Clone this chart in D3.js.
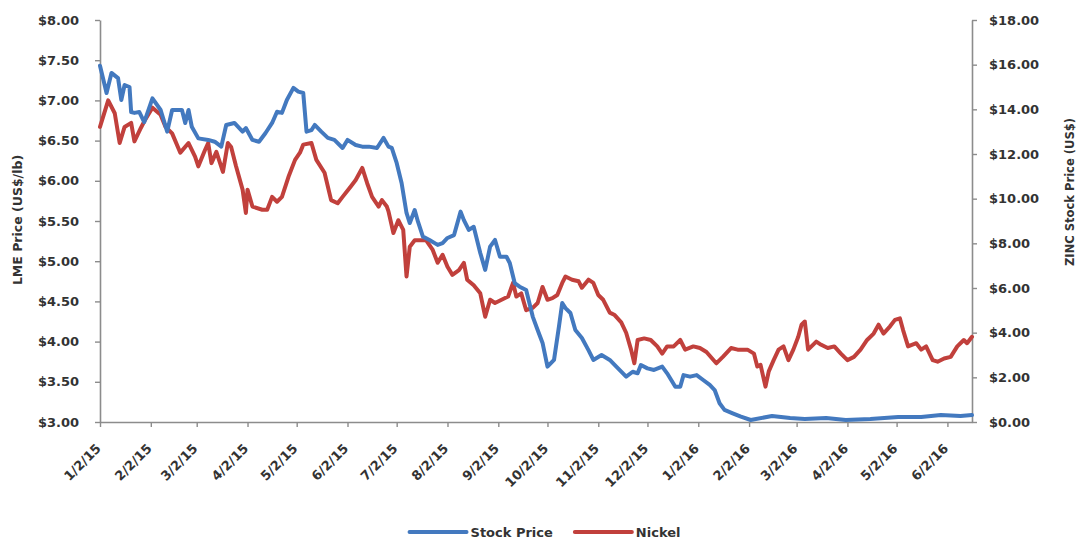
<!DOCTYPE html>
<html>
<head>
<meta charset="utf-8">
<script src="https://cdn.jsdelivr.net/npm/d3@7"></script>
<style>
  html, body { margin: 0; padding: 0; background: #fff; }
  svg { display: block; }
  .lbl { font-family: "DejaVu Sans", sans-serif; font-weight: bold; fill: #333; }
</style>
</head>
<body>
<svg id="chart" width="1077" height="540"></svg>
<script>
// ZINC (Horsehead) share price, US$ — right axis
const stockDates = [
  "2015-01-02","2015-01-06","2015-01-09","2015-01-13","2015-01-15","2015-01-17","2015-01-20","2015-01-21","2015-01-23","2015-01-26",
  "2015-01-29","2015-02-03","2015-02-08","2015-02-12","2015-02-15","2015-02-21","2015-02-23","2015-02-25","2015-02-27","2015-03-03",
  "2015-03-09","2015-03-13","2015-03-17","2015-03-20","2015-03-25","2015-03-30","2015-04-01","2015-04-05","2015-04-09","2015-04-13",
  "2015-04-17","2015-04-20","2015-04-23","2015-04-26","2015-04-30","2015-05-03","2015-05-06","2015-05-08","2015-05-11","2015-05-13",
  "2015-05-17","2015-05-21","2015-05-25","2015-05-30","2015-06-02","2015-06-07","2015-06-11","2015-06-15","2015-06-20","2015-06-24",
  "2015-06-27","2015-06-29","2015-07-02","2015-07-05","2015-07-08","2015-07-10","2015-07-13","2015-07-15","2015-07-18","2015-07-22",
  "2015-07-27","2015-07-30","2015-08-02","2015-08-06","2015-08-10","2015-08-12","2015-08-15","2015-08-18","2015-08-22","2015-08-25",
  "2015-08-28","2015-08-31","2015-09-03","2015-09-07","2015-09-09","2015-09-12","2015-09-15","2015-09-19","2015-09-23","2015-09-26",
  "2015-09-29","2015-10-02","2015-10-06","2015-10-09","2015-10-11","2015-10-13","2015-10-16","2015-10-19","2015-10-23","2015-10-27",
  "2015-10-30","2015-11-04","2015-11-09","2015-11-13","2015-11-19","2015-11-23","2015-11-26","2015-11-28","2015-12-02","2015-12-06",
  "2015-12-11","2015-12-14","2015-12-19","2015-12-22","2015-12-24","2015-12-28","2016-01-01","2016-01-05","2016-01-09","2016-01-12",
  "2016-01-15","2016-01-18","2016-01-23","2016-01-28","2016-02-03","2016-02-16","2016-02-27","2016-03-07","2016-03-20","2016-04-01",
  "2016-04-16","2016-05-03","2016-05-17","2016-05-29","2016-06-10","2016-06-17"
];
const stockPrice = [
  15.95,14.73,15.63,15.40,14.42,15.09,15.00,13.88,13.84,13.88,
  13.43,14.49,13.97,13.00,13.97,13.97,13.39,13.97,13.22,12.70,
  12.63,12.55,12.33,13.30,13.39,13.00,13.16,12.63,12.55,12.94,
  13.39,13.89,13.84,14.42,14.96,14.79,14.73,13.00,13.07,13.30,
  13.00,12.72,12.63,12.27,12.63,12.40,12.33,12.33,12.27,12.72,
  12.33,12.27,11.60,10.70,9.36,8.91,9.49,8.97,8.30,8.15,
  7.93,8.01,8.24,8.37,9.42,9.04,8.60,8.74,7.57,6.81,
  7.85,8.15,7.40,7.40,7.12,6.22,6.06,5.91,4.72,4.12,
  3.54,2.48,2.78,4.27,5.33,5.10,4.88,4.12,3.76,3.22,
  2.78,3.00,2.78,2.48,2.03,2.25,2.18,2.55,2.40,2.33,
  2.48,2.18,1.58,1.58,2.10,2.03,2.10,1.88,1.66,1.43,
  0.84,0.54,0.39,0.24,0.09,0.27,0.18,0.13,0.18,0.09,
  0.13,0.22,0.22,0.31,0.27,0.31
];

// LME nickel price, US$/lb — left axis
const nickelDates = [
  "2015-01-02","2015-01-07","2015-01-11","2015-01-14","2015-01-17","2015-01-21","2015-01-23","2015-01-27","2015-01-29",
  "2015-02-03","2015-02-08","2015-02-11","2015-02-15","2015-02-20","2015-02-25",
  "2015-03-01","2015-03-03","2015-03-07","2015-03-09","2015-03-11","2015-03-14","2015-03-18","2015-03-21","2015-03-23","2015-03-26","2015-03-30",
  "2015-04-01","2015-04-02","2015-04-05","2015-04-11","2015-04-14","2015-04-17","2015-04-20","2015-04-23","2015-04-27",
  "2015-05-01","2015-05-04","2015-05-06","2015-05-11","2015-05-14","2015-05-19","2015-05-23","2015-05-27","2015-05-30",
  "2015-06-04","2015-06-07","2015-06-11","2015-06-14","2015-06-17","2015-06-21","2015-06-23","2015-06-26","2015-06-27","2015-06-30",
  "2015-07-03","2015-07-06","2015-07-08","2015-07-10","2015-07-13","2015-07-16","2015-07-20","2015-07-24","2015-07-27","2015-07-30",
  "2015-08-02","2015-08-05","2015-08-09","2015-08-12","2015-08-14","2015-08-18","2015-08-22","2015-08-25","2015-08-28","2015-08-31",
  "2015-09-04","2015-09-08","2015-09-11","2015-09-13","2015-09-16","2015-09-19","2015-09-23","2015-09-26","2015-09-29",
  "2015-10-02","2015-10-05","2015-10-08","2015-10-11","2015-10-13","2015-10-17","2015-10-21","2015-10-23","2015-10-27","2015-10-30",
  "2015-11-02","2015-11-05","2015-11-09","2015-11-12","2015-11-16","2015-11-19","2015-11-22","2015-11-24","2015-11-26","2015-11-30",
  "2015-12-04","2015-12-08","2015-12-11","2015-12-14","2015-12-18","2015-12-22","2015-12-25","2015-12-30",
  "2016-01-03","2016-01-07","2016-01-13","2016-01-17","2016-01-22","2016-01-26",
  "2016-02-01","2016-02-05","2016-02-07","2016-02-09","2016-02-12","2016-02-14","2016-02-17","2016-02-20","2016-02-23","2016-02-26","2016-02-29",
  "2016-03-03","2016-03-05","2016-03-07","2016-03-09","2016-03-14","2016-03-17","2016-03-21","2016-03-25","2016-03-29",
  "2016-04-02","2016-04-06","2016-04-10","2016-04-14","2016-04-18","2016-04-21","2016-04-24","2016-04-28",
  "2016-05-01","2016-05-04","2016-05-06","2016-05-09","2016-05-14","2016-05-17","2016-05-20","2016-05-24","2016-05-27","2016-05-31",
  "2016-06-04","2016-06-08","2016-06-12","2016-06-14","2016-06-17"
];
const nickelPrice = [
  6.67,7.00,6.84,6.47,6.67,6.72,6.49,6.66,6.74,
  6.91,6.82,6.67,6.59,6.35,6.47,
  6.30,6.18,6.38,6.47,6.22,6.36,6.11,6.47,6.42,6.18,5.89,
  5.60,5.89,5.68,5.64,5.64,5.80,5.74,5.80,6.05,
  6.26,6.35,6.45,6.47,6.26,6.10,5.76,5.72,5.80,
  5.93,6.01,6.16,5.97,5.80,5.68,5.76,5.68,5.62,5.35,
  5.51,5.39,4.81,5.18,5.26,5.26,5.26,5.14,4.98,5.08,
  4.93,4.83,4.89,4.98,4.77,4.70,4.60,4.31,4.52,4.48,
  4.52,4.56,4.73,4.56,4.60,4.39,4.42,4.48,4.68,
  4.52,4.54,4.58,4.73,4.81,4.77,4.75,4.67,4.77,4.73,
  4.58,4.52,4.36,4.33,4.24,4.11,3.90,3.73,4.02,4.04,
  4.02,3.94,3.85,3.94,3.94,4.02,3.90,3.94,
  3.92,3.87,3.73,3.81,3.92,3.90,
  3.90,3.85,3.69,3.71,3.44,3.63,3.77,3.90,3.94,3.77,3.90,
  4.06,4.21,4.25,3.90,4.00,3.96,3.92,3.94,3.85,
  3.77,3.81,3.90,4.02,4.10,4.21,4.10,4.19,
  4.27,4.29,4.14,3.94,3.98,3.90,3.94,3.77,3.75,3.79,
  3.81,3.94,4.02,3.98,4.06
];

const xTickLabels = ["1/2/15","2/2/15","3/2/15","4/2/15","5/2/15","6/2/15","7/2/15","8/2/15","9/2/15",
  "10/2/15","11/2/15","12/2/15","1/2/16","2/2/16","3/2/16","4/2/16","5/2/16","6/2/16"];
const xRange = ["2015-01-02", "2016-06-17"];
const leftTicks = [3, 3.5, 4, 4.5, 5, 5.5, 6, 6.5, 7, 7.5, 8];
const rightTicks = [0, 2, 4, 6, 8, 10, 12, 14, 16, 18];
const seriesNames = ["Stock Price", "Nickel"];
const leftTitle = "LME Price (US$/lb)";
const rightTitle = "ZINC Stock Price (US$)";

const colors = { "Stock Price": "#4379bf", "Nickel": "#c1403c" };
const axisColor = "#8c8c8c";

const plot = { left: 100, right: 972, top: 20, bottom: 422 };
const parseISO = d3.timeParse("%Y-%m-%d");
const parseTick = d3.timeParse("%m/%d/%y");
const fmtTick = d3.timeFormat("%-m/%-d/%y");
const money = d => "$" + d.toFixed(2);

const svg = d3.select("#chart");

const x = d3.scaleTime().domain(xRange.map(parseISO)).range([plot.left, plot.right]);
const yL = d3.scaleLinear().domain([3, 8]).range([plot.bottom, plot.top]);
const yR = d3.scaleLinear().domain([0, 18]).range([plot.bottom, plot.top]);

const stock = stockDates.map((d, i) => ({ date: parseISO(d), value: stockPrice[i] }));
const nickel = nickelDates.map((d, i) => ({ date: parseISO(d), value: nickelPrice[i] }));

function styleAxis(g) {
  g.selectAll("path.domain").attr("stroke", axisColor).attr("stroke-width", 1.6);
  g.selectAll(".tick line").attr("stroke", axisColor).attr("stroke-width", 1.4);
  g.selectAll(".tick text").attr("class", "lbl").attr("font-size", 13).attr("fill", "#333");
}

// left value axis (nickel)
svg.append("g")
  .attr("transform", `translate(${plot.left},0)`)
  .call(d3.axisLeft(yL).tickValues(leftTicks).tickFormat(money).tickSize(5).tickSizeOuter(0).tickPadding(16))
  .call(styleAxis);

// right value axis (stock price)
svg.append("g")
  .attr("transform", `translate(${plot.right},0)`)
  .call(d3.axisRight(yR).tickValues(rightTicks).tickFormat(money).tickSize(5).tickSizeOuter(0).tickPadding(12))
  .call(styleAxis);

// date axis
const gx = svg.append("g")
  .attr("transform", `translate(0,${plot.bottom})`)
  .call(d3.axisBottom(x).tickValues(xTickLabels.map(parseTick)).tickFormat(fmtTick).tickSize(5).tickSizeOuter(0))
  .call(styleAxis);
gx.selectAll(".tick text")
  .attr("x", 0).attr("y", 0).attr("dy", "0.35em")
  .attr("text-anchor", "end")
  .attr("transform", "translate(-2,24) rotate(-45)");

// axis titles
svg.append("text").attr("class", "lbl").attr("font-size", 12.5)
  .attr("text-anchor", "middle").attr("dominant-baseline", "central")
  .attr("transform", "translate(17,220) rotate(-90)")
  .text(leftTitle);
svg.append("text").attr("class", "lbl").attr("font-size", 12.5)
  .attr("text-anchor", "middle").attr("dominant-baseline", "central")
  .attr("textLength", 148).attr("lengthAdjust", "spacingAndGlyphs")
  .attr("transform", "translate(1069,192) rotate(-90)")
  .text(rightTitle);

// series
const lineL = d3.line().x(d => x(d.date)).y(d => yL(d.value));
const lineR = d3.line().x(d => x(d.date)).y(d => yR(d.value));

svg.append("path").datum(nickel)
  .attr("fill", "none").attr("stroke", colors["Nickel"]).attr("stroke-width", 4)
  .attr("stroke-linejoin", "round").attr("stroke-linecap", "round")
  .attr("d", lineL);
svg.append("path").datum(stock)
  .attr("fill", "none").attr("stroke", colors["Stock Price"]).attr("stroke-width", 4)
  .attr("stroke-linejoin", "round").attr("stroke-linecap", "round")
  .attr("d", lineR);

// legend
const legend = svg.append("g");
const swatch = 57, gapText = 4, gapItem = 22, legendY = 532;
let cursor = 0;
seriesNames.forEach((name, i) => {
  const item = legend.append("g").attr("transform", `translate(${cursor},0)`);
  item.append("line").attr("x1", 0).attr("x2", swatch).attr("y1", legendY).attr("y2", legendY)
    .attr("stroke", colors[name]).attr("stroke-width", 4).attr("stroke-linecap", "round");
  const t = item.append("text").attr("class", "lbl").attr("font-size", 13)
    .attr("x", swatch + gapText).attr("y", legendY).attr("dominant-baseline", "central").text(name);
  cursor += swatch + gapText + t.node().getComputedTextLength() + gapItem;
});
const legendWidth = cursor - gapItem;
legend.attr("transform", `translate(${545 - legendWidth / 2},0)`);
</script>
</body>
</html>
